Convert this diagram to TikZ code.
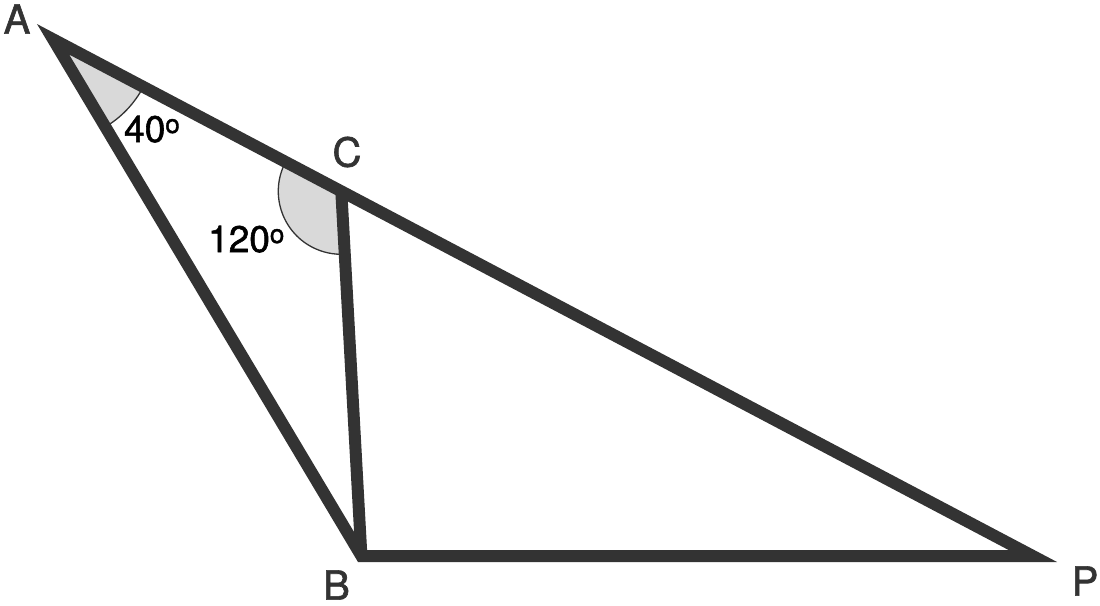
\documentclass[tikz,border=0pt]{standalone}
\usepackage{fontspec}
\setmainfont{TeX Gyre Heros}
\newfontfamily\markfont[BoldFont={TeX Gyre Heros}, BoldFeatures={FakeBold=1.5}]{TeX Gyre Heros}
\usetikzlibrary{calc}
\definecolor{edgegray}{HTML}{333333}
\definecolor{wedgegray}{HTML}{D9D9D9}

\begin{document}
\begin{tikzpicture}[x=1pt, y=-1pt, every node/.style={inner sep=0pt},
	vlabel/.style={text=edgegray, font=\markfont\bfseries\fontsize{40}{48}\selectfont},
	alabel/.style={text=black, font=\markfont\bfseries\fontsize{37}{44}\selectfont, anchor=base west},
	side/.style={draw=edgegray, line width=12pt, miter limit=10},
	wedge/.style={fill=wedgegray, draw=edgegray, line width=1.3pt}]
	\useasboundingbox (0,0) rectangle (1100,605);
	\coordinate (a) at (53.1,39.3);
	\coordinate (b) at (361.4,556);
	\coordinate (p) at (1032.8,556);
	\coordinate (c) at (341.3,191.3);
	
	% angle marks
	\draw[wedge] (a) -- ++(27.81:102) arc[start angle=27.81, end angle=59.17, radius=102] -- cycle;
	\draw[wedge] (c) -- ++(207.81:63) arc[start angle=207.81, end angle=86.75, radius=63] -- cycle;
	
	\draw[side] (a) -- (b) -- (p) -- cycle;
	\draw[side] (c) -- (b);
	
	\node[vlabel] (la) at (17,19) {A};
	\node[vlabel] (lb) at (336.5,585) {B};
	\node[vlabel] (lc) at (347,152) {C};
	\node[vlabel] (lp) at (1085,581) {P};
	\node[alabel] (angA) at (124,142) {40\textsuperscript{o}};
	\node[alabel] (angC) at (208,252) {120\textsuperscript{o}};
\end{tikzpicture}
\end{document}
